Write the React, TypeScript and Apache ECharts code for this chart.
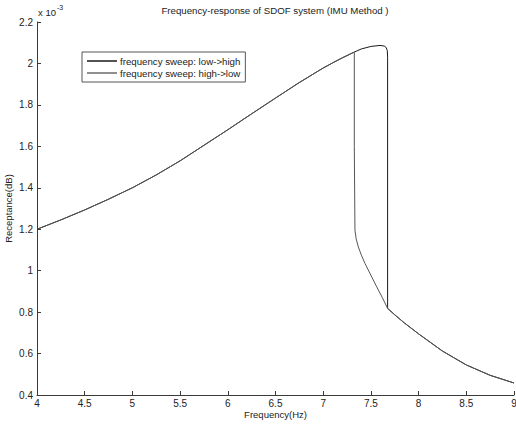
import React, { useEffect, useRef } from "react";
import * as echarts from "echarts";

// Frequency (Hz) / receptance (x10^-3)
const upperFreq = [4, 4.25, 4.5, 4.75, 5, 5.25, 5.5, 5.75, 6, 6.25, 6.5, 6.75, 7, 7.1, 7.2, 7.326];
const upperVal = [1.2, 1.245, 1.293, 1.345, 1.4, 1.462, 1.53, 1.605, 1.68, 1.757, 1.833, 1.908, 1.978, 2.003, 2.027, 2.055];

const peakFreq = [7.4, 7.5, 7.595, 7.64, 7.66, 7.672, 7.675];
const peakVal = [2.07, 2.082, 2.087, 2.084, 2.077, 2.062, 2.03];

const lowerFreq = [7.675, 7.75, 7.85, 8, 8.25, 8.5, 8.75, 9];
const lowerVal = [0.818, 0.787, 0.748, 0.695, 0.612, 0.545, 0.495, 0.458];

// lower branch continuing left of the drop-down point (high->low sweep only)
const bendFreq = [7.62, 7.561, 7.5, 7.438, 7.4, 7.368, 7.345, 7.333, 7.326];
const bendVal = [0.87, 0.922, 0.978, 1.035, 1.075, 1.115, 1.155, 1.195, 1.6];

const seriesNames = ["frequency sweep: low->high", "frequency sweep: high->low"];
const xTicks = { min: 4, max: 9, interval: 0.5 };
const yTicks = { min: 0.4, max: 2.2, interval: 0.2 };

const zip = (a: number[], b: number[]) => a.map((x, i) => [x, b[i]]);

export default function App() {
  const ref = useRef<HTMLDivElement>(null);
  useEffect(() => {
    if (!ref.current) return;
    const chart = echarts.init(ref.current, undefined, { renderer: "svg" });

    const upper = zip(upperFreq, upperVal);
    const peak = zip(peakFreq, peakVal);
    const lower = zip(lowerFreq, lowerVal);
    const bend = zip(bendFreq, bendVal);

    const lowToHigh = [...upper, ...peak, ...lower];
    const highToLow = [
      ...lower.slice().reverse(),
      ...bend,
      ...upper.slice().reverse(),
    ];

    const font = "Liberation Sans, Arial, sans-serif";
    const axisColor = "#3a3a3a";

    chart.setOption({
      animation: false,
      backgroundColor: "#fff",
      textStyle: { fontFamily: font },
      title: {
        text: "Frequency-response of SDOF system (IMU Method )",
        left: 275,
        textAlign: "center",
        top: 5,
        padding: 0,
        textStyle: { fontSize: 9.7, fontWeight: "normal", color: "#222", fontFamily: font },
      },
      legend: {
        left: 82,
        top: 52,
        orient: "vertical",
        data: seriesNames,
        icon: "rect",
        itemWidth: 30,
        itemHeight: 1.5,
        itemGap: 2,
        padding: [4, 5, 4, 5],
        borderColor: "#555",
        borderWidth: 1,
        backgroundColor: "#fff",
        textStyle: { fontSize: 9.7, color: "#222", fontFamily: font, padding: [0, 0, 0, -2] },
      },
      grid: { left: 37, right: 2, top: 22, bottom: 29, outerBoundsMode: "none", containLabel: false },
      xAxis: {
        type: "value",
        ...xTicks,
        name: "Frequency(Hz)",
        nameLocation: "middle",
        nameGap: 14,
        nameMoveOverlap: false,
        nameTextStyle: { fontSize: 9.5, color: "#222", fontFamily: font },
        axisLine: { lineStyle: { color: axisColor, width: 1 } },
        axisTick: { inside: true, length: 4, lineStyle: { color: axisColor } },
        axisLabel: { fontSize: 10, color: "#222", margin: 3, fontFamily: font },
        splitLine: { show: false },
      },
      yAxis: {
        type: "value",
        ...yTicks,
        name: "Receptance(dB)",
        nameLocation: "middle",
        nameGap: 24,
        nameMoveOverlap: false,
        nameTextStyle: { fontSize: 9.5, color: "#222", fontFamily: font },
        axisLine: { show: true, lineStyle: { color: axisColor, width: 1 } },
        axisTick: { show: true, inside: true, length: 4, lineStyle: { color: axisColor } },
        axisLabel: { fontSize: 10, color: "#222", margin: 4, fontFamily: font },
        splitLine: { show: false },
      },
      graphic: [
        {
          type: "text",
          left: 38,
          top: 4,
          style: {
            text: "{a|x 10}{b|-3}",
            rich: {
              a: { fontSize: 9.5, fill: "#222", fontFamily: font, verticalAlign: "bottom" },
              b: { fontSize: 7, fill: "#222", fontFamily: font, padding: [0, 0, 6, 1] },
            },
          },
        },
      ],
      series: [
        {
          name: seriesNames[0],
          type: "line",
          data: lowToHigh,
          showSymbol: false,
          symbol: "none",
          lineStyle: { color: "#1a1a1a", width: 1 },
          itemStyle: { color: "#1a1a1a" },
          z: 2,
        },
        {
          name: seriesNames[1],
          type: "line",
          data: highToLow,
          showSymbol: false,
          symbol: "none",
          lineStyle: { color: "#555", width: 1 },
          itemStyle: { color: "#6a6a6a" },
          z: 3,
        },
      ],
    });
    return () => chart.dispose();
  }, []);
  return <div ref={ref} style={{ width: 516, height: 424, position: "absolute", left: 0, top: 0 }} />;
}
